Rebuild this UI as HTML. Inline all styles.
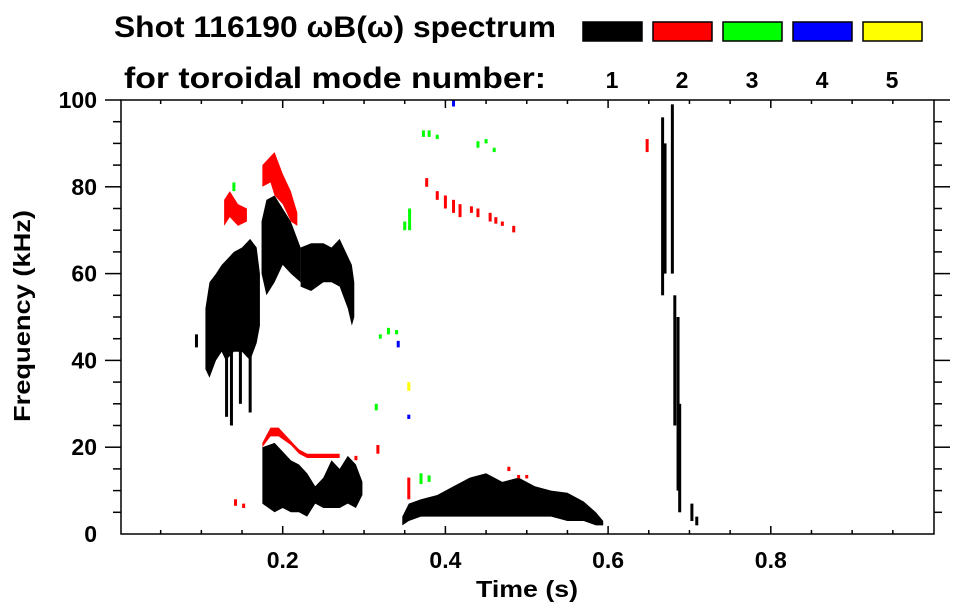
<!DOCTYPE html>
<html><head><meta charset="utf-8"><style>
html,body{margin:0;padding:0;background:#fff}
svg{display:block;font-family:"Liberation Sans",sans-serif;font-weight:bold}
</style></head><body>
<svg id="chart" width="963" height="615" viewBox="0 0 963 615" xmlns="http://www.w3.org/2000/svg">
<text x="114" y="37" font-size="30" textLength="442" lengthAdjust="spacingAndGlyphs">Shot 116190 ωB(ω) spectrum</text>
<text x="124" y="88" font-size="30" textLength="422" lengthAdjust="spacingAndGlyphs">for toroidal mode number:</text>
<g id="legend"></g>
<g id="marks"></g>
<g id="axes"></g>
<text x="527" y="597" font-size="23" text-anchor="middle" textLength="102" lengthAdjust="spacingAndGlyphs">Time (s)</text>
<text transform="translate(30,316) rotate(-90)" font-size="23" text-anchor="middle" textLength="212" lengthAdjust="spacingAndGlyphs">Frequency (kHz)</text>
</svg>
<script>
const modeNames = ['1','2','3','4','5'];
const modeColors = ['#000000','#ff0000','#00ff00','#0000ff','#ffff00'];
const xTicks = [0.2,0.4,0.6,0.8];
const yTicks = [0,20,40,60,80,100];
// blobs: [time s, fLow kHz, fHigh kHz]
const mode1Blobs = [
 [[0.105,38,52],[0.11,36,58],[0.118,40,60],[0.125,42,62],[0.13,40,63],[0.14,42,65],[0.15,42,66],[0.16,40,68],[0.168,44,66],[0.172,48,60]],
 [[0.174,60,72],[0.18,55,77],[0.19,58,78],[0.2,62,75],[0.21,60,72],[0.222,58,66]],
 [[0.222,57,66],[0.235,56,67],[0.25,58,67],[0.26,58,66],[0.27,57,68],[0.28,52,64],[0.285,48,62],[0.288,50,58]],
 [[0.175,7,20],[0.19,5,21],[0.2,6,19],[0.21,5,17],[0.22,5,16],[0.23,4,14],[0.24,7,11],[0.25,6,13],[0.26,6,17],[0.27,6,15],[0.28,7,18],[0.29,6,16],[0.298,9,12]],
 [[0.347,2,4],[0.355,3,7],[0.37,4,8],[0.39,4,9],[0.41,4,11],[0.43,4,13],[0.45,4,14],[0.47,4,12],[0.49,4,13],[0.51,4,11],[0.53,4,10],[0.55,3,9.5],[0.57,3,7.5],[0.585,2,5],[0.594,2,3]]
];
const mode1Strips = [[0.094,43,46],[0.131,27,50],[0.137,25,45],[0.148,30,45],[0.16,28,45],[0.667,55,96],[0.670,60,90],[0.679,60,99],[0.682,25,55],[0.686,10,50],[0.688,5,30],[0.703,3,7],[0.709,2,4]];
const mode2Blobs = [
 [[0.128,71,77],[0.135,73,79],[0.145,71,76],[0.156,72,75]],
 [[0.175,80,85],[0.185,81,87],[0.19,78,88],[0.2,76,83],[0.21,72,79],[0.218,71,74]],
 [[0.175,20,21],[0.185,22.5,24.5],[0.195,22.5,24.5],[0.21,20.5,21.5],[0.22,18.5,19.5],[0.23,17.5,18.5],[0.26,17.5,18.5],[0.27,17.5,18.5]]
];
const mode2Strips = [[0.377,80,82],[0.39,77,79],[0.40,75,78],[0.41,74,77],[0.418,73,76],[0.432,74,75.5],[0.44,73,75],[0.455,72,74],[0.462,71.5,73],[0.47,71,72],[0.484,69.5,71],[0.142,6.5,8],[0.152,6,7],[0.29,17,18],[0.317,18.5,20.5],[0.355,8,13],[0.478,14.5,15.5],[0.49,12.8,13.6],[0.50,12.8,13.6],[0.648,88,91]];
const mode3Strips = [[0.14,79,81],[0.373,91.5,93],[0.38,91.5,93],[0.39,91,92],[0.44,89,90.5],[0.45,90,91],[0.46,88,89],[0.35,70,72],[0.356,70,75],[0.32,45,46],[0.33,46,47.5],[0.34,46,47],[0.315,28.5,30],[0.37,11.5,14],[0.38,12,13.5]];
const mode4Strips = [[0.342,43,44.5],[0.41,98.5,100],[0.355,26.5,27.5]];
const mode5Strips = [[0.355,33,35]];

const L=121,R=934,T=100,B=534;
const X = t => 120 + t*813.5;
const Y = f => B - f*(B-T)/100;
const NS='http://www.w3.org/2000/svg';
function mk(tag, parent){const e=document.createElementNS(NS,tag);parent.appendChild(e);return e;}

const lg=document.getElementById('legend');
modeNames.forEach((m,i)=>{
  const r=mk('rect',lg);
  
  
  r.setAttribute('x',583+i*70);r.setAttribute('y',22);r.setAttribute('width',59);r.setAttribute('height',19);
  r.setAttribute('fill',modeColors[i]);r.setAttribute('stroke','#000');r.setAttribute('stroke-width',1.5);
  const t=mk('text',lg);
  
  
  t.setAttribute('x',612+i*70);t.setAttribute('y',88);t.setAttribute('font-size',23);t.setAttribute('text-anchor','middle');
  t.textContent=m;
});

const mg=document.getElementById('marks');
function blob(b,color,name){
  const top=b.map(p=>X(p[0])+','+Y(p[2]));
  const bot=b.slice().reverse().map(p=>X(p[0])+','+Y(p[1]));
  const pg=mk('polygon',mg);
  
  
  pg.setAttribute('points',top.concat(bot).join(' '));
  pg.setAttribute('fill',color);
}
function strip(s,color,name){
  const r=mk('rect',mg);
  
  
  r.setAttribute('x',X(s[0])-1.5);r.setAttribute('width',3);
  r.setAttribute('y',Y(s[2]));r.setAttribute('height',Math.max(1,Y(s[1])-Y(s[2])));
  r.setAttribute('fill',color);
}
mode1Blobs.forEach(b=>blob(b,modeColors[0],'mode-1-region'));
mode1Strips.forEach(s=>strip(s,modeColors[0],'mode-1-strip'));
mode2Blobs.forEach(b=>blob(b,modeColors[1],'mode-2-region'));
mode2Strips.forEach(s=>strip(s,modeColors[1],'mode-2-strip'));
mode3Strips.forEach(s=>strip(s,modeColors[2],'mode-3-strip'));
mode4Strips.forEach(s=>strip(s,modeColors[3],'mode-4-strip'));
mode5Strips.forEach(s=>strip(s,modeColors[4],'mode-5-strip'));

const ag=document.getElementById('axes');
function line(x1,y1,x2,y2,name){const l=mk('line',ag);
  
  
  l.setAttribute('x1',x1);l.setAttribute('y1',y1);l.setAttribute('x2',x2);l.setAttribute('y2',y2);
  l.setAttribute('stroke','#000');l.setAttribute('stroke-width',1.5);}
const box=mk('rect',ag);


box.setAttribute('x',L);box.setAttribute('y',T);box.setAttribute('width',R-L);box.setAttribute('height',B-T);
box.setAttribute('fill','none');box.setAttribute('stroke','#000');box.setAttribute('stroke-width',1.5);
for(let k=1;k<20;k++){const t=k*0.05,x=X(t),maj=(k%4===0),len=maj?8:4;
  line(x,B,x,B-len,'x-tick');line(x,T,x,T+len,'x-tick-top');}
for(let k=1;k<20;k++){const f=k*5,y=Y(f),maj=(k%4===0),len=maj?16:8;
  line(L,y,L-len,y,'y-tick');line(R,y,R+len,y,'y-tick-right');}
line(L-16,T,L,T,'y-tick');line(R,T,R+16,T,'y-tick-right');
xTicks.forEach(v=>{const t=mk('text',ag);
  
  
  t.setAttribute('x',X(v));t.setAttribute('y',568);t.setAttribute('font-size',23);t.setAttribute('text-anchor','middle');t.textContent=v.toFixed(1);});
yTicks.forEach(v=>{const t=mk('text',ag);
  
  
  t.setAttribute('x',97);t.setAttribute('y',Y(v)+8);t.setAttribute('font-size',23);t.setAttribute('text-anchor','end');t.textContent=v;});
</script>
</body></html>
